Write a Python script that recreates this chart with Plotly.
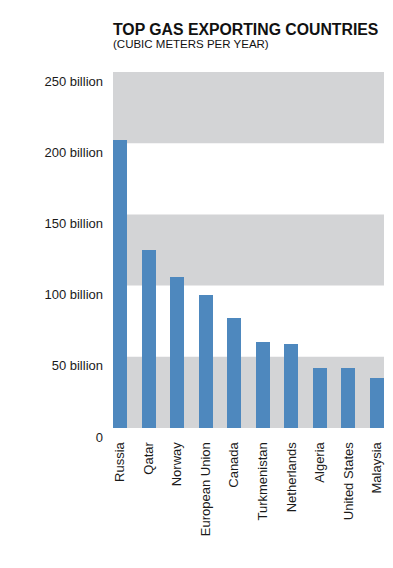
import plotly.graph_objects as go

countries = ["Russia", "Qatar", "Norway", "European Union", "Canada",
             "Turkmenistan", "Netherlands", "Algeria", "United States", "Malaysia"]
exports_bn = [202, 125, 106, 93.5, 77.5, 60.5, 59, 42.3, 42.1, 35]

tick_vals = [0, 50, 100, 150, 200, 250]
tick_text = ["0", "50 billion", "100 billion", "150 billion", "200 billion", "250 billion"]
bands = [(0, 50), (100, 150), (200, 250)]

title = "TOP GAS EXPORTING COUNTRIES"
subtitle = "(CUBIC METERS PER YEAR)"

FONT = "Liberation Sans, Arial, sans-serif"
BAR = "#4e88be"
BAND = "#d3d4d6"

fig = go.Figure(go.Bar(x=list(range(len(countries))), y=exports_bn,
                       width=0.5, marker=dict(color=BAR, line=dict(width=0))))

for lo, hi in bands:
    fig.add_shape(type="rect", xref="paper", yref="y", x0=0, x1=1, y0=lo, y1=hi,
                  fillcolor=BAND, line=dict(width=0), layer="below")

fig.update_layout(
    width=385, height=552,
    margin=dict(l=105, r=9, t=64, b=132),
    paper_bgcolor="white", plot_bgcolor="white",
    showlegend=False,
    font=dict(family=FONT, color="#1a1a1a", size=13),
    bargap=0,
    xaxis=dict(tickvals=list(range(len(countries))), ticktext=countries,
               range=[-0.25, len(countries) - 0.75], tickangle=-90,
               showgrid=False, zeroline=False, showline=False,
               ticks="outside", ticklen=8, tickcolor="rgba(0,0,0,0)",
               tickfont=dict(size=13)),
    yaxis=dict(tickvals=tick_vals, ticktext=tick_text, range=[0, 250],
               showgrid=False, zeroline=False, showline=False,
               ticks="", ticklabelstandoff=9,
               ticklabelposition="outside bottom",
               tickfont=dict(size=13)),
    annotations=[
        dict(text=f"<b>{title}</b>", xref="paper", yref="paper", x=0, y=1,
             xanchor="left", yanchor="bottom", yshift=32, xshift=-2, showarrow=False,
             font=dict(size=15.8, family=FONT, color="#111")),
        dict(text=subtitle, xref="paper", yref="paper", x=0, y=1,
             xanchor="left", yanchor="bottom", yshift=20, xshift=-2, showarrow=False,
             font=dict(size=11.5, family=FONT, color="#111")),
    ],
)

fig.write_html("out.html")
